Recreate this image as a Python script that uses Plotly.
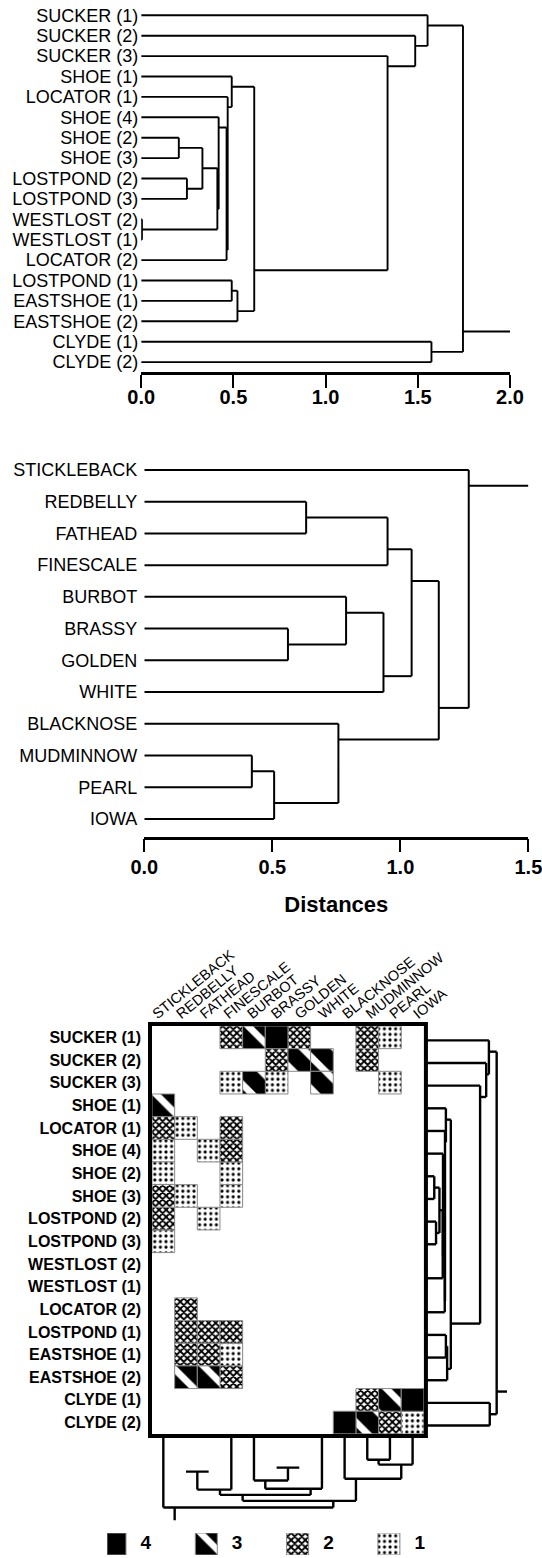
import plotly.graph_objects as go

W, H = 542, 1558

# ---------------- data ----------------
site_labels = ["SUCKER (1)", "SUCKER (2)", "SUCKER (3)", "SHOE (1)", "LOCATOR (1)",
               "SHOE (4)", "SHOE (2)", "SHOE (3)", "LOSTPOND (2)", "LOSTPOND (3)",
               "WESTLOST (2)", "WESTLOST (1)", "LOCATOR (2)", "LOSTPOND (1)",
               "EASTSHOE (1)", "EASTSHOE (2)", "CLYDE (1)", "CLYDE (2)"]
# linkage of sites: ids < 18 are leaves, id 18+k is the k-th merge
site_merge_a = [10, 6, 8, 19, 21, 5, 23, 4, 3, 13, 27, 26, 2, 1, 0, 16, 32]
site_merge_b = [11, 7, 9, 20, 18, 22, 12, 24, 25, 14, 15, 28, 29, 30, 31, 17, 33]
site_merge_h = [0.004, 0.204, 0.248, 0.332, 0.413, 0.420, 0.463, 0.469, 0.491,
                0.491, 0.522, 0.613, 1.336, 1.486, 1.553, 1.574, 1.745]
site_ticks = [0.0, 0.5, 1.0, 1.5, 2.0]

species_labels = ["STICKLEBACK", "REDBELLY", "FATHEAD", "FINESCALE", "BURBOT", "BRASSY",
                  "GOLDEN", "WHITE", "BLACKNOSE", "MUDMINNOW", "PEARL", "IOWA"]
species_merge_a = [1, 12, 5, 4, 15, 13, 9, 18, 8, 17, 0]
species_merge_b = [2, 3, 6, 14, 7, 16, 10, 11, 19, 20, 21]
species_merge_h = [0.632, 0.950, 0.561, 0.788, 0.934, 1.044, 0.420, 0.507, 0.758, 1.150, 1.267]
species_ticks = [0.0, 0.5, 1.0, 1.5]

# abundance class (0 = absent) ; rows = sites, columns = species
abundance = [
    [0, 0, 0, 2, 3, 4, 2, 0, 0, 2, 1, 0],  # SUCKER (1)
    [0, 0, 0, 0, 0, 2, 3, 3, 0, 2, 0, 0],  # SUCKER (2)
    [0, 0, 0, 1, 3, 1, 0, 3, 0, 0, 1, 0],  # SUCKER (3)
    [3, 0, 0, 0, 0, 0, 0, 0, 0, 0, 0, 0],  # SHOE (1)
    [2, 1, 0, 2, 0, 0, 0, 0, 0, 0, 0, 0],  # LOCATOR (1)
    [1, 0, 1, 2, 0, 0, 0, 0, 0, 0, 0, 0],  # SHOE (4)
    [1, 0, 0, 1, 0, 0, 0, 0, 0, 0, 0, 0],  # SHOE (2)
    [2, 1, 0, 1, 0, 0, 0, 0, 0, 0, 0, 0],  # SHOE (3)
    [2, 0, 1, 0, 0, 0, 0, 0, 0, 0, 0, 0],  # LOSTPOND (2)
    [1, 0, 0, 0, 0, 0, 0, 0, 0, 0, 0, 0],  # LOSTPOND (3)
    [0, 0, 0, 0, 0, 0, 0, 0, 0, 0, 0, 0],  # WESTLOST (2)
    [0, 0, 0, 0, 0, 0, 0, 0, 0, 0, 0, 0],  # WESTLOST (1)
    [0, 2, 0, 0, 0, 0, 0, 0, 0, 0, 0, 0],  # LOCATOR (2)
    [0, 2, 2, 2, 0, 0, 0, 0, 0, 0, 0, 0],  # LOSTPOND (1)
    [0, 2, 2, 1, 0, 0, 0, 0, 0, 0, 0, 0],  # EASTSHOE (1)
    [0, 3, 3, 2, 0, 0, 0, 0, 0, 0, 0, 0],  # EASTSHOE (2)
    [0, 0, 0, 0, 0, 0, 0, 0, 0, 2, 3, 4],  # CLYDE (1)
    [0, 0, 0, 0, 0, 0, 0, 0, 4, 3, 2, 1],  # CLYDE (2)
]
legend_levels = [4, 3, 2, 1]

# ---------------- helpers ----------------
FONT = "Liberation Sans, Arial, Helvetica, sans-serif"


def dx(a, b):
    return [a / W, b / W]


def dy(top, bottom):
    return [1 - bottom / H, 1 - top / H]


def dendro(n, ma, mb, mh, hidden=()):
    pos = {i: float(i) for i in range(n)}
    span = {i: (i, i) for i in range(n)}
    hgt = {i: 0.0 for i in range(n)}
    segs = []
    for k, (a, b, h) in enumerate(zip(ma, mb, mh)):
        node = n + k
        if span[a][0] > span[b][0]:
            a, b = b, a
        for c in (a, b):
            if not (c < n and c in hidden):
                segs.append(((hgt[c], pos[c]), (h, pos[c])))
        segs.append(((h, pos[a]), (h, pos[b])))
        span[node] = (span[a][0], span[b][1])
        pos[node] = (span[a][1] + span[b][0]) / 2.0
        hgt[node] = h
    root = n + len(ma) - 1
    return segs, pos[root], hgt[root]


def seg_xy(segs, horizontal=True):
    xs, ys = [], []
    for (h0, p0), (h1, p1) in segs:
        if horizontal:
            xs += [h0, h1, None]
            ys += [p0, p1, None]
        else:
            xs += [p0, p1, None]
            ys += [h0, h1, None]
    return xs, ys


fig = go.Figure()

# ---------------- top dendrogram (sites) ----------------
s_segs, s_root_p, s_root_h = dendro(len(site_labels), site_merge_a, site_merge_b, site_merge_h)
s_segs_stub = s_segs + [((s_root_h, s_root_p), (site_ticks[-1], s_root_p))]
xs, ys = seg_xy(s_segs_stub, True)
fig.add_trace(go.Scatter(x=xs, y=ys, mode="lines", line=dict(color="black", width=1.9),
                         xaxis="x", yaxis="y", hoverinfo="skip", showlegend=False))

# ---------------- middle dendrogram (species) ----------------
p_segs, p_root_p, p_root_h = dendro(len(species_labels), species_merge_a, species_merge_b, species_merge_h)
p_segs_stub = p_segs + [((p_root_h, p_root_p), (species_ticks[-1], p_root_p))]
xs, ys = seg_xy(p_segs_stub, True)
fig.add_trace(go.Scatter(x=xs, y=ys, mode="lines", line=dict(color="black", width=2),
                         xaxis="x2", yaxis="y2", hoverinfo="skip", showlegend=False))

# ---------------- shaded matrix ----------------
CELL = 22.66
styles = {
    4: dict(color="black", pattern=dict(shape="")),
    3: dict(color="black", pattern=dict(shape="\\", fgcolor="white", fgopacity=1, size=CELL, solidity=0.3,
                                        fillmode="overlay")),
    2: dict(color="white", pattern=dict(shape="x", fgcolor="black", fgopacity=1, size=5, solidity=0.62,
                                        fillmode="overlay")),
    1: dict(color="white", pattern=dict(shape=".", fgcolor="black", fgopacity=1, size=5.6, solidity=0.25,
                                        fillmode="overlay")),
}
for lev in [1, 2, 3, 4]:
    rr, cc = [], []
    for r, row in enumerate(abundance):
        for c, v in enumerate(row):
            if v == lev:
                rr.append(r)
                cc.append(c)
    st = styles[lev]
    fig.add_trace(go.Bar(orientation="h", y=rr, x=[1] * len(rr), base=[c - 0.5 for c in cc], width=1.0,
                         marker=dict(color=st["color"], pattern=st["pattern"], line=dict(color="#8a8a8a", width=1)),
                         xaxis="x3", yaxis="y3", hoverinfo="skip", showlegend=False))

# dummy trace for the rotated column labels axis
fig.add_trace(go.Scatter(x=[0], y=[0], mode="markers", marker=dict(opacity=0), xaxis="x7", yaxis="y3",
                         hoverinfo="skip", showlegend=False))

# right dendrogram (sites)
xs, ys = seg_xy(s_segs_stub, True)
fig.add_trace(go.Scatter(x=xs, y=ys, mode="lines", line=dict(color="black", width=2.4),
                         xaxis="x4", yaxis="y4", hoverinfo="skip", showlegend=False))

# bottom dendrogram (species)
hid = {species_labels.index(n) for n in ["REDBELLY", "FATHEAD", "BRASSY", "GOLDEN"]}
b_segs, b_root_p, b_root_h = dendro(len(species_labels), species_merge_a, species_merge_b, species_merge_h, hidden=hid)
b_segs = b_segs + [((b_root_h, b_root_p), (species_ticks[-1], b_root_p))]
xs, ys = seg_xy(b_segs, False)
fig.add_trace(go.Scatter(x=xs, y=ys, mode="lines", line=dict(color="black", width=2.4),
                         xaxis="x5", yaxis="y5", hoverinfo="skip", showlegend=False))

# ---------------- legend ----------------
S = 91.3
LEG_OFF = -0.536
for i, lev in enumerate(legend_levels):
    st = styles[lev]
    pat = dict(st["pattern"])
    if lev == 3:
        pat["size"] = 22
    fig.add_trace(go.Bar(x=[i], y=[1], base=[0], width=22 / S, offset=LEG_OFF,
                         marker=dict(color=st["color"], pattern=pat, line=dict(color="#8a8a8a", width=1)),
                         xaxis="x6", yaxis="y6", hoverinfo="skip", showlegend=False))
fig.add_trace(go.Scatter(x=[i - 0.078 for i in range(len(legend_levels))], y=[0.5] * len(legend_levels),
                         mode="text", text=[str(l) for l in legend_levels],
                         textfont=dict(family=FONT, size=19, color="black", weight="bold"),
                         xaxis="x6", yaxis="y6", hoverinfo="skip", showlegend=False))

# ---------------- layout ----------------
hx0, hy0 = 152.0, 1026.0
hx1, hy1 = hx0 + 12 * CELL, hy0 + 18 * CELL
hidden_axis = dict(visible=False, showgrid=False, zeroline=False, automargin=False)
num_font = dict(family=FONT, size=20, color="black", weight="bold")

fig.update_layout(
    width=W, height=H, margin=dict(l=0, r=0, t=0, b=0),
    template="none", paper_bgcolor="white", plot_bgcolor="rgba(0,0,0,0)",
    font=dict(family=FONT, color="black"), barmode="overlay", showlegend=False,
    xaxis=dict(domain=dx(141.2, 510), range=[0, 2], anchor="y", showline=True, linewidth=2.5, linecolor="black",
               ticks="outside", ticklen=13, tickwidth=2, tickcolor="black", tickvals=site_ticks,
               ticktext=["%.1f" % t for t in site_ticks], tickfont=num_font, showgrid=False, zeroline=False,
               automargin=False, ticklabelstandoff=-8, ticklabeloverflow="allow"),
    yaxis=dict(domain=dy(5.1, 372.3), range=[17.5, -0.5], anchor="x", tickvals=list(range(len(site_labels))),
               ticktext=site_labels, ticks="", showline=False, showgrid=False, zeroline=False,
               tickfont=dict(family=FONT, size=18, color="black"), automargin=False, ticklabelstandoff=2),
    xaxis2=dict(domain=dx(144.3, 528.4), range=[0, 1.5], anchor="y2", showline=True, linewidth=2.5, linecolor="black",
                ticks="outside", ticklen=13, tickwidth=2, tickcolor="black", tickvals=species_ticks,
                ticktext=["%.1f" % t for t in species_ticks], tickfont=num_font, showgrid=False, zeroline=False,
                automargin=False, ticklabelstandoff=-2, ticklabeloverflow="allow",
                title=dict(text="Distances", font=dict(family=FONT, size=22, color="black", weight="bold"), standoff=20)),
    yaxis2=dict(domain=dy(454.1, 836.7), range=[11.56, -0.5], anchor="x2", tickvals=list(range(len(species_labels))),
                ticktext=species_labels, ticks="", showline=False, showgrid=False, zeroline=False,
                tickfont=dict(family=FONT, size=18, color="black"), automargin=False, ticklabelstandoff=6),
    xaxis3=dict(domain=dx(hx0, hx1), range=[-0.5, 11.5], anchor="y3", **hidden_axis),
    yaxis3=dict(domain=dy(hy0, hy1), range=[17.5, -0.5], anchor="x3", tickvals=list(range(len(site_labels))),
                ticktext=site_labels, ticks="", showline=False, showgrid=False, zeroline=False,
                tickfont=dict(family=FONT, size=16, color="black", weight="bold"), automargin=False,
                ticklabelstandoff=10),
    xaxis7=dict(domain=dx(141.15, 425.55), range=[-0.5, 11.5], anchor="y3", side="top",
                tickvals=list(range(len(species_labels))), ticktext=species_labels, tickangle=-39, ticks="",
                showline=False, showgrid=False, zeroline=False, automargin=False, ticklabeloverflow="allow",
                tickfont=dict(family=FONT, size=14.5, color="black"), ticklabelstandoff=1),
    xaxis4=dict(domain=dx(426, 507), range=[0, 2], anchor="y4", **hidden_axis),
    yaxis4=dict(domain=dy(hy0 + 3, hy1 + 3), range=[17.5, -0.5], anchor="x4", **hidden_axis),
    xaxis5=dict(domain=dx(hx0, hx1), range=[-0.5, 11.5], anchor="y5", **hidden_axis),
    yaxis5=dict(domain=dy(1436, 1520.6), range=[1.5, 0], anchor="x5", **hidden_axis),
    xaxis6=dict(domain=dx(107.3, 107.3 + 4 * S), range=[-0.5, 3.5], anchor="y6", **hidden_axis),
    yaxis6=dict(domain=dy(1533, 1555), range=[0, 1], anchor="x6", **hidden_axis),
)

# thick frame around the matrix
fig.add_shape(type="rect", xref="paper", yref="paper",
              x0=(hx0 - 2) / W, x1=(hx1 + 2) / W, y0=1 - (hy1 + 2) / H, y1=1 - (hy0 - 2) / H,
              line=dict(color="black", width=4), fillcolor="rgba(0,0,0,0)", layer="above")

fig.write_html("out.html")
